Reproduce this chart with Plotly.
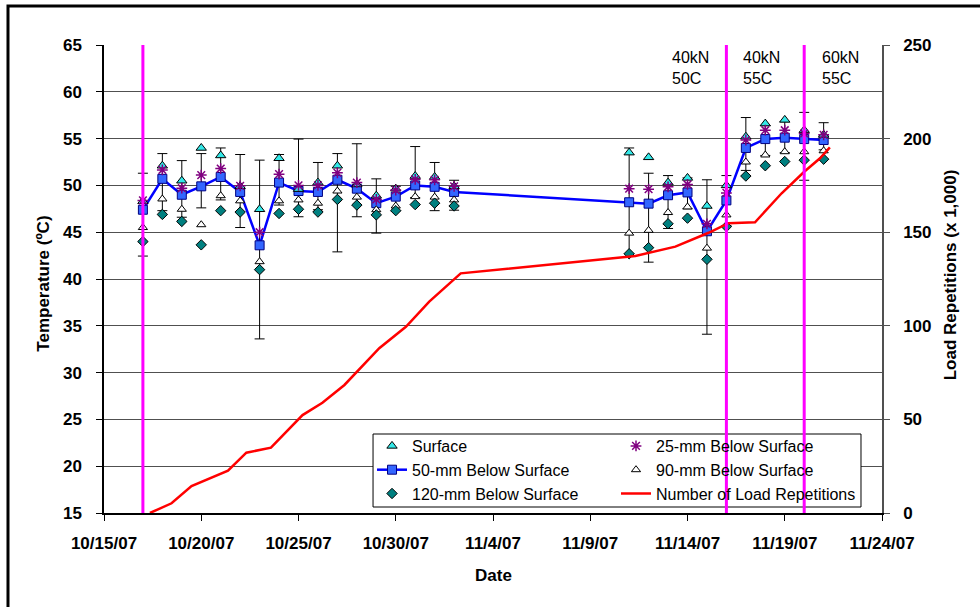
import plotly.graph_objects as go

# Daily temperature readings (deg C) at each depth
dates = [
    "2007-10-17", "2007-10-18", "2007-10-19", "2007-10-20", "2007-10-21",
    "2007-10-22", "2007-10-23", "2007-10-24", "2007-10-25", "2007-10-26",
    "2007-10-27", "2007-10-28", "2007-10-29", "2007-10-30", "2007-10-31",
    "2007-11-01", "2007-11-02",
    "2007-11-11", "2007-11-12", "2007-11-13", "2007-11-14", "2007-11-15",
    "2007-11-16", "2007-11-17", "2007-11-18", "2007-11-19", "2007-11-20",
    "2007-11-21",
]
temp_surface = [48.3, 52.1, 50.5, 54.0, 53.2, 49.9, 47.45, 52.9, 49.6, 50.3,
                52.1, 50.1, 48.9, 49.65, 51.0, 50.9, 49.9,
                53.5, 53.0, 50.3, 50.8, 47.8, 50.0, 55.2, 56.6, 57.0, 55.9, 55.4]
temp_25mm = [48.4, 51.65, 49.7, 51.1, 51.8, 49.95, 45.0, 51.2, 50.0, 50.0,
             51.35, 50.3, 48.5, 49.5, 50.65, 50.6, 49.9,
             49.65, 49.6, 49.85, 50.1, 45.9, 49.2, 54.85, 55.9, 55.9, 55.55, 55.4]
temp_50mm = [47.4, 50.7, 49.0, 49.9, 50.9, 49.3, 43.6, 50.3, 49.4, 49.3,
             50.6, 49.65, 48.1, 48.8, 50.0, 49.85, 49.3,
             48.2, 48.05, 48.95, 49.25, 45.1, 48.4, 54.0, 54.95, 55.1, 54.95, 54.85]
temp_90mm = [45.5, 48.55, 47.45, 45.8, 48.9, 48.35, 41.85, 48.35, 48.45, 48.1,
             49.4, 48.75, 47.4, 47.8, 48.8, 48.75, 48.45,
             44.9, 45.2, 47.1, 47.7, 43.3, 46.85, 52.5, 53.25, 53.6, 53.6, 53.7]
temp_120mm = [44.0, 46.9, 46.15, 43.65, 47.3, 47.15, 41.0, 47.0, 47.45, 47.15,
              48.5, 47.9, 46.85, 47.3, 47.95, 48.1, 47.8,
              42.7, 43.35, 45.9, 46.5, 42.1, 45.6, 51.0, 52.1, 52.55, 52.7, 52.8]
# Daily range shown as error bars on the 50-mm series
temp_high = [51.3, 53.4, 52.65, 53.4, 54.0, 53.3, 52.7, 53.3, 54.95, 52.45,
             53.4, 54.45, 50.7, 49.9, 54.15, 52.45, 50.55,
             54.0, 51.3, 51.05, 50.8, 50.6, 51.05, 57.25, 56.4, 56.8, 57.8, 56.7]
temp_low = [42.45, 47.3, 46.6, 47.6, 48.45, 45.5, 33.6, 47.9, 46.65, 47.4,
            42.9, 46.65, 44.9, 47.3, 48.7, 47.3, 47.35,
            42.7, 41.8, 45.4, 47.5, 34.1, 45.7, 51.6, 53.2, 53.5, 50.55, 53.8]

# Cumulative load repetitions (thousands)
load_times = [
    "2007-10-17 08:40", "2007-10-17 16:50", "2007-10-18 11:20", "2007-10-19 12:00",
    "2007-10-21 09:00", "2007-10-22 07:40", "2007-10-23 14:00", "2007-10-25 05:00",
    "2007-10-26 05:30", "2007-10-27 08:40", "2007-10-29 03:40", "2007-10-30 12:30",
    "2007-10-31 17:20", "2007-11-02 08:10", "2007-11-11 07:40", "2007-11-13 09:00",
    "2007-11-15 02:00", "2007-11-16 02:30", "2007-11-17 11:20", "2007-11-18 20:10",
    "2007-11-20 00:00", "2007-11-20 19:30", "2007-11-21 07:40",
]
load_reps = [0, 1.6, 5.2, 14.4, 22.6, 32.2, 34.9, 52.3, 58.9, 68.4, 88.0, 99.5,
             112.9, 128.0, 137.3, 142.3, 149.7, 154.8, 155.3, 170.8, 182.3, 189.5, 195.3]

# Load / temperature regime changes
regime_dates = ["2007-10-17", "2007-11-16", "2007-11-20"]
regime_labels = ["40kN<br>50C", "40kN<br>55C", "60kN<br>55C"]

x_tick_vals = ["2007-10-15", "2007-10-20", "2007-10-25", "2007-10-30", "2007-11-04",
               "2007-11-09", "2007-11-14", "2007-11-19", "2007-11-24"]
x_tick_text = ["10/15/07", "10/20/07", "10/25/07", "10/30/07", "11/4/07",
               "11/9/07", "11/14/07", "11/19/07", "11/24/07"]

FONT = "Liberation Sans, Arial, sans-serif"

err_plus = [h - m for h, m in zip(temp_high, temp_50mm)]
err_minus = [m - l for m, l in zip(temp_50mm, temp_low)]

fig = go.Figure()

fig.add_trace(go.Scatter(
    x=dates, y=temp_50mm, name="50-mm Below Surface", mode="lines+markers",
    line=dict(color="#0000FF", width=2.5),
    marker=dict(symbol="square", size=9, color="#3366FF", line=dict(color="#000080", width=1)),
    error_y=dict(type="data", symmetric=False, array=err_plus, arrayminus=err_minus,
                 color="black", thickness=1, width=5),
    legend="legend", legendrank=2,
))
fig.add_trace(go.Scatter(
    x=dates, y=temp_surface, name="Surface", mode="markers",
    marker=dict(symbol="triangle-up", size=9, color="#33E8E8", line=dict(color="black", width=1)),
    legend="legend", legendrank=1,
))
fig.add_trace(go.Scatter(
    x=dates, y=temp_25mm, name="25-mm Below Surface", mode="markers",
    marker=dict(symbol="asterisk-open", size=9, color="#800080", line=dict(color="#800080", width=1.5)),
    legend="legend2", legendrank=1,
))
fig.add_trace(go.Scatter(
    x=dates, y=temp_90mm, name="90-mm Below Surface", mode="markers",
    marker=dict(symbol="triangle-up", size=8, color="white", line=dict(color="black", width=1)),
    legend="legend2", legendrank=2,
))
fig.add_trace(go.Scatter(
    x=dates, y=temp_120mm, name="120-mm Below Surface", mode="markers",
    marker=dict(symbol="diamond", size=8, color="#008080", line=dict(color="black", width=1)),
    legend="legend", legendrank=3,
))
fig.add_trace(go.Scatter(
    x=load_times, y=load_reps, name="Number of Load Repetitions", mode="lines",
    line=dict(color="#FF0000", width=2.5), yaxis="y2",
    legend="legend2", legendrank=3,
))

# Legend box (drawn as shapes so the regime lines can cross it)
leg_x0, leg_x1, leg_y0, leg_y1 = 0.3458, 0.973, 0.0128, 0.1688
shapes = [
    dict(type="rect", xref="paper", yref="paper", x0=leg_x0, x1=leg_x1, y0=leg_y0, y1=leg_y1,
         fillcolor="white", line=dict(color="black", width=1), layer="above"),
]
for d in regime_dates:
    shapes.append(dict(type="line", xref="x", yref="paper", x0=d, x1=d, y0=0, y1=1,
                       line=dict(color="#FF00FF", width=3), layer="above"))
# chart frame
shapes.append(dict(type="rect", xref="paper", yref="paper", x0=-0.1234, x1=1.14, y0=-0.23, y1=1.0833,
                   line=dict(color="black", width=3), fillcolor="rgba(0,0,0,0)", layer="above"))

annotations = []
for xp, txt in zip([0.7275, 0.8184, 0.9203], regime_labels):
    annotations.append(dict(xref="paper", yref="paper", x=xp, y=0.951, text=txt, showarrow=False,
                            xanchor="left", yanchor="middle", align="left",
                            font=dict(family=FONT, size=16, color="black")))
annotations += [
    dict(xref="paper", yref="paper", x=-0.0771, y=0.49, text="<b>Temperature (ºC)</b>",
         textangle=-90, showarrow=False, xanchor="center", yanchor="middle",
         font=dict(family=FONT, size=17, color="black")),
    dict(xref="paper", yref="paper", x=1.0874, y=0.51, text="<b>Load Repetitions (x 1,000)</b>",
         textangle=-90, showarrow=False, xanchor="center", yanchor="middle",
         font=dict(family=FONT, size=17, color="black")),
    dict(xref="paper", yref="paper", x=0.5, y=-0.1346, text="<b>Date</b>",
         showarrow=False, xanchor="center", yanchor="middle",
         font=dict(family=FONT, size=17, color="black")),
]

legend_common = dict(orientation="v", xanchor="left", yanchor="top",
                     bgcolor="rgba(0,0,0,0)", borderwidth=0, itemwidth=30,
                     font=dict(family=FONT, size=16, color="black"))

fig.update_layout(
    width=980, height=607,
    margin=dict(l=104, r=98, t=45, b=94),
    paper_bgcolor="white", plot_bgcolor="white",
    font=dict(family=FONT, size=16, color="black"),
    showlegend=True,
    legend=dict(x=0.3445, y=0.1795, **legend_common),
    legend2=dict(x=0.6581, y=0.1795, **legend_common),
    xaxis=dict(type="date", range=["2007-10-15", "2007-11-24"],
               tickvals=x_tick_vals, ticktext=x_tick_text,
               ticks="outside", ticklen=6, tickcolor="black",
               showline=True, linecolor="black", linewidth=1.5, showgrid=False, zeroline=False,
               tickfont=dict(family=FONT, size=17, color="black", weight="bold"),
               ticklabelstandoff=8),
    yaxis=dict(range=[15, 65], dtick=5, ticks="outside", ticklen=6, tickcolor="black",
               showline=True, linecolor="black", linewidth=1.5,
               showgrid=True, gridcolor="#505050", gridwidth=1, zeroline=False,
               tickfont=dict(family=FONT, size=17, color="black", weight="bold"),
               ticklabelstandoff=11),
    yaxis2=dict(range=[0, 250], dtick=50, overlaying="y", side="right",
                ticks="outside", ticklen=6, tickcolor="#505050",
                showline=True, linecolor="#505050", linewidth=1.5, showgrid=False, zeroline=False,
                tickfont=dict(family=FONT, size=17, color="black", weight="bold"),
                ticklabelstandoff=10),
    shapes=shapes,
    annotations=annotations,
)

fig.write_html("out.html")
